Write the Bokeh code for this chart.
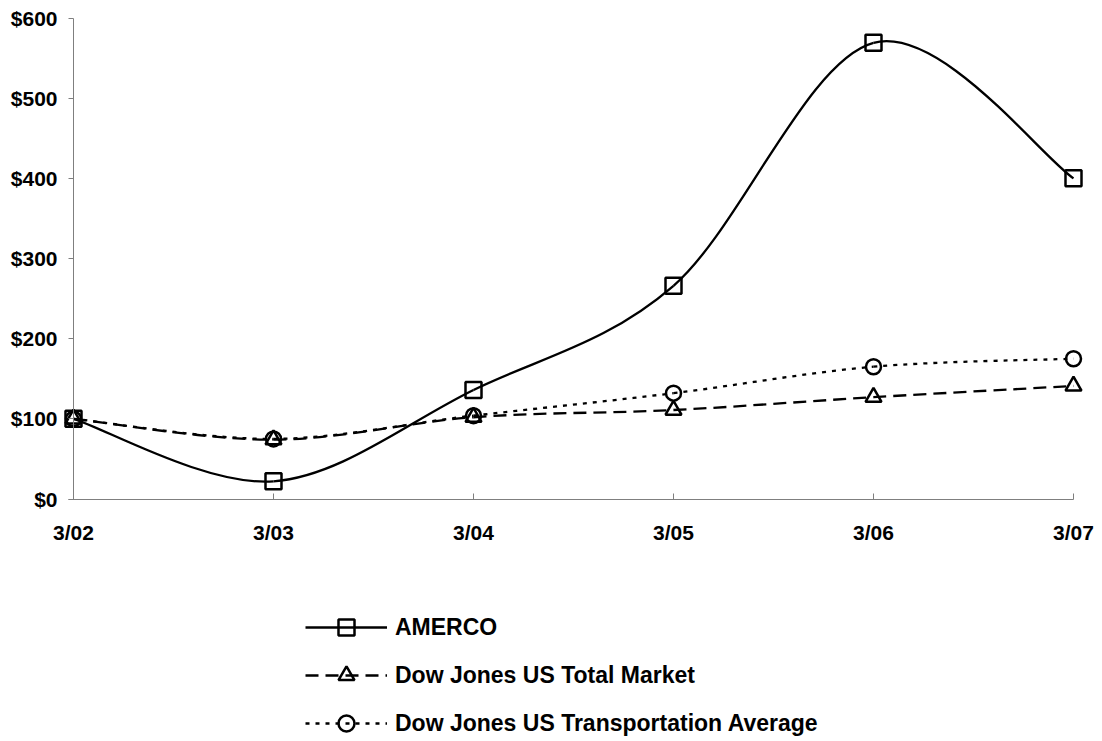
from bokeh.plotting import figure
from bokeh.models import Range1d, FixedTicker, Legend, LegendItem, ColumnDataSource
from bokeh.core.properties import value
from bokeh.embed import file_html
from bokeh.resources import INLINE

# ---- data ----
periods = ["3/02", "3/03", "3/04", "3/05", "3/06", "3/07"]
amerco = [100, 22, 136, 266, 569, 400]
dj_total_market = [100, 74, 102, 111, 127, 141]
dj_transport = [100, 75, 104, 132, 165, 175]
y_ticks = [0, 100, 200, 300, 400, 500, 600]
y_tick_labels = ["$0", "$100", "$200", "$300", "$400", "$500", "$600"]

FONT = "Liberation Sans"
xs = list(range(len(periods)))
y_min, y_max = y_ticks[0], y_ticks[-1]


def smooth_segments(px, py):
    """Cubic Bezier control points (Catmull-Rom style smoothing) between data points."""
    n = len(px)
    d = dict(x0=[], y0=[], x1=[], y1=[], cx0=[], cy0=[], cx1=[], cy1=[])
    for i in range(n - 1):
        a = max(i - 1, 0)
        b = min(i + 2, n - 1)
        d["x0"].append(px[i]); d["y0"].append(py[i])
        d["x1"].append(px[i + 1]); d["y1"].append(py[i + 1])
        d["cx0"].append(px[i] + (px[i + 1] - px[a]) / 6.0)
        d["cy0"].append(py[i] + (py[i + 1] - py[a]) / 6.0)
        d["cx1"].append(px[i + 1] - (px[b] - px[i]) / 6.0)
        d["cy1"].append(py[i + 1] - (py[b] - py[i]) / 6.0)
    return ColumnDataSource(d)


# ---- geometry: one large frame; the value axis area is 0..600 over 481 px ----
LEFT, TOP = 8, 0
FRAME_W, FRAME_H = 1092, 739
AX_X0, AX_Y600 = 73, 17.5          # page position of 3/02 and of $600
PX_X = 200.0                       # px per category step
PX_Y = 481.0 / (y_max - y_min)     # px per dollar
x_lo = xs[0] - (AX_X0 - LEFT) / PX_X
x_hi = x_lo + FRAME_W / PX_X
y_hi = y_max + (AX_Y600 - TOP) / PX_Y
y_lo = y_hi - FRAME_H / PX_Y

p = figure(frame_width=FRAME_W, frame_height=FRAME_H,
           x_range=Range1d(x_lo, x_hi), y_range=Range1d(y_lo, y_hi),
           output_backend="svg", toolbar_location=None,
           min_border_left=LEFT, min_border_right=0,
           min_border_top=TOP, min_border_bottom=0)
p.outline_line_color = None
p.xgrid.visible = False
p.ygrid.visible = False
p.background_fill_color = "white"
p.border_fill_color = "white"

axis_grey = "#7f7f7f"

# x axis line + ticks at $0
xa = p.xaxis[0]
xa.ticker = FixedTicker(ticks=xs)
xa.fixed_location = y_min
xa.bounds = (xs[0] - 0.025, xs[-1])
xa.axis_line_color = axis_grey
xa.major_tick_line_color = axis_grey
xa.minor_tick_line_color = None
xa.major_tick_in = 6
xa.major_tick_out = 0
xa.major_label_standoff = 0
xa.major_label_text_font_size = "0px"
xa.major_label_text_color = None

# y axis line + ticks at 3/02
ya = p.yaxis[0]
ya.ticker = FixedTicker(ticks=y_ticks)
ya.fixed_location = xs[0]
ya.bounds = (y_min, y_max)
ya.axis_line_color = axis_grey
ya.major_tick_line_color = axis_grey
ya.minor_tick_line_color = None
ya.major_tick_in = 0
ya.major_tick_out = 5
ya.major_label_standoff = 0
ya.major_label_text_font_size = "0px"
ya.major_label_text_color = None

# tick labels
p.text(x=xs, y=[y_min] * len(xs), text=periods, y_offset=33,
       text_align="center", text_baseline="middle",
       text_font=value(FONT), text_font_style="bold",
       text_font_size="21px", text_color="black")
p.text(x=[xs[0]] * len(y_ticks), y=y_ticks, text=y_tick_labels, x_offset=-16,
       text_align="right", text_baseline="middle",
       text_font=value(FONT), text_font_style="bold",
       text_font_size="21px", text_color="black")

# series
lw = 2.3
mlw = 2.5
r1l = p.bezier(x0="x0", y0="y0", x1="x1", y1="y1", cx0="cx0", cy0="cy0",
               cx1="cx1", cy1="cy1", source=smooth_segments(xs, dj_transport),
               line_color="black", line_width=lw, line_dash="4 6")
r2l = p.bezier(x0="x0", y0="y0", x1="x1", y1="y1", cx0="cx0", cy0="cy0",
               cx1="cx1", cy1="cy1", source=smooth_segments(xs, dj_total_market),
               line_color="black", line_width=lw, line_dash="13 7")
r3l = p.bezier(x0="x0", y0="y0", x1="x1", y1="y1", cx0="cx0", cy0="cy0",
               cx1="cx1", cy1="cy1", source=smooth_segments(xs, amerco),
               line_color="black", line_width=lw)

r1m = p.scatter(xs, dj_transport, marker="circle", size=15,
                fill_color=None, line_color="black", line_width=mlw)
r2m = p.scatter(xs, dj_total_market, marker="triangle", size=16,
                fill_color=None, line_color="black", line_width=mlw)
r3m = p.scatter(xs, amerco, marker="square", size=16,
                fill_color=None, line_color="black", line_width=mlw)

# legend below the axis (rows centred near y = 627, 675, 723)
legend = Legend(items=[
    LegendItem(label="AMERCO", renderers=[r3l, r3m]),
    LegendItem(label="Dow Jones US Total Market", renderers=[r2l, r2m]),
    LegendItem(label="Dow Jones US Transportation Average", renderers=[r1l, r1m]),
], location=(305 - LEFT, (TOP + FRAME_H) - 743), orientation="vertical",
    glyph_width=82, glyph_height=40, label_height=40, spacing=8,
    label_standoff=8, padding=0, margin=0,
    border_line_alpha=0, background_fill_alpha=0,
    label_text_font=FONT, label_text_font_style="bold",
    label_text_font_size="23px", label_text_color="black")
p.add_layout(legend)

open("out.html", "w").write(file_html(p, INLINE))
